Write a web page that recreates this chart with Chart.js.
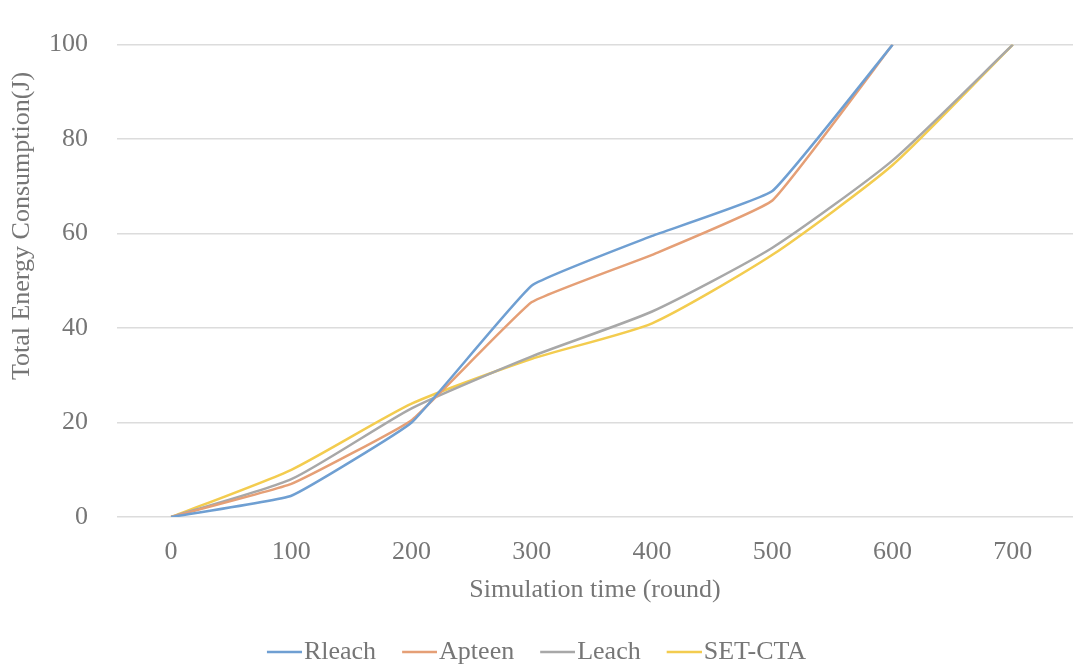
<!DOCTYPE html>
<html>
<head>
<meta charset="utf-8">
<script src="https://cdn.jsdelivr.net/npm/chart.js@4/dist/chart.umd.min.js"></script>
<style>
  html, body { margin: 0; padding: 0; background: #ffffff; }
  #wrap { width: 1073px; height: 664px; position: relative; }
</style>
</head>
<body>
<div id="wrap"><canvas id="chart"></canvas></div>
<script>
// Simulation rounds (x categories)
const rounds = [0, 100, 200, 300, 400, 500, 600, 700];
// Total energy consumption (J) per protocol
const rleach = [0, 4.5, 20, 49, 59.5, 69, 100, null];
const apteen = [0, 7, 20.5, 45.5, 55.5, 67, 100, null];
const leach  = [0, 8, 23, 34, 43.5, 57, 75.5, 100];
const setcta = [0, 10, 24, 33.5, 41, 55.5, 74.5, 100];
// Y tick values
const yTicks = [0, 20, 40, 60, 80, 100];

const seriesNames = ['Rleach', 'Apteen', 'Leach', 'SET-CTA'];
const xTitle = 'Simulation time (round)';
const yTitle = 'Total Energy Consumption(J)';

const FONT = '"Liberation Serif", "Times New Roman", serif';
const TEXT = '#767676';
const colors = ['#6f9fd2', '#e59f76', '#a8a8a8', '#f3cc4f'];

// Legend marker: a short horizontal line sitting right before the label
function legendLine(color) {
  const c = document.createElement('canvas');
  c.width = 46; c.height = 6;
  const g = c.getContext('2d');
  g.strokeStyle = color;
  g.lineWidth = 2.5;
  g.beginPath();
  g.moveTo(11, 3);
  g.lineTo(46, 3);
  g.stroke();
  return c;
}

function points(values) {
  const out = [];
  rounds.forEach((r, i) => { if (values[i] !== null) out.push({ x: r, y: values[i] }); });
  return out;
}

const seriesValues = [rleach, apteen, leach, setcta];
const tensions = [0.1, 0.1, 0.2, 0.2];

const datasets = seriesNames.map((name, i) => ({
  label: name,
  data: points(seriesValues[i]),
  borderColor: colors[i],
  backgroundColor: colors[i],
  borderWidth: 2.5,
  tension: tensions[i],
  pointRadius: 0,
  pointHoverRadius: 0,
  pointStyle: legendLine(colors[i]),
  fill: false
}));

// Rotated y-axis title, placed beside the tick labels
const yTitlePlugin = {
  id: 'yTitle',
  afterDraw(chart) {
    const ctx = chart.ctx;
    ctx.save();
    ctx.translate(22, 226);
    ctx.rotate(-Math.PI / 2);
    ctx.font = '26px ' + FONT;
    ctx.fillStyle = TEXT;
    ctx.textAlign = 'center';
    ctx.textBaseline = 'middle';
    ctx.fillText(yTitle, 0, 0);
    ctx.restore();
  }
};

new Chart(document.getElementById('chart'), {
  type: 'line',
  data: { datasets },
  plugins: [yTitlePlugin],
  options: {
    responsive: true,
    maintainAspectRatio: false,
    animation: false,
    devicePixelRatio: 1,
    layout: { padding: { top: 42, right: 0, bottom: -11, left: 0 } },
    plugins: {
      tooltip: { enabled: false },
      legend: {
        position: 'bottom',
        labels: {
          usePointStyle: true,
          pointStyleWidth: 24,
          padding: 26,
          color: TEXT,
          font: { family: FONT, size: 26 }
        }
      }
    },
    scales: {
      x: {
        type: 'linear',
        min: -45,
        max: 750,
        afterBuildTicks(scale) { scale.ticks = rounds.map(v => ({ value: v })); },
        afterFit(scale) { scale.height = 96; },
        grid: { display: false, drawTicks: false },
        border: { display: false },
        ticks: {
          padding: 20,
          color: TEXT,
          font: { family: FONT, size: 26 },
          maxRotation: 0,
          autoSkip: false,
          callback: v => String(v)
        },
        title: {
          display: true,
          text: xTitle,
          color: TEXT,
          font: { family: FONT, size: 26 },
          padding: { top: 7, bottom: 7 }
        }
      },
      y: {
        min: 0,
        max: 100,
        afterBuildTicks(scale) { scale.ticks = yTicks.map(v => ({ value: v })); },
        afterFit(scale) { scale.width = 117; },
        grid: { color: '#dcdcdc', lineWidth: 1.5, drawTicks: false },
        border: { display: false },
        ticks: {
          padding: 29,
          color: TEXT,
          font: { family: FONT, size: 26 },
          callback: v => String(v)
        }
      }
    }
  }
});
</script>
</body>
</html>
